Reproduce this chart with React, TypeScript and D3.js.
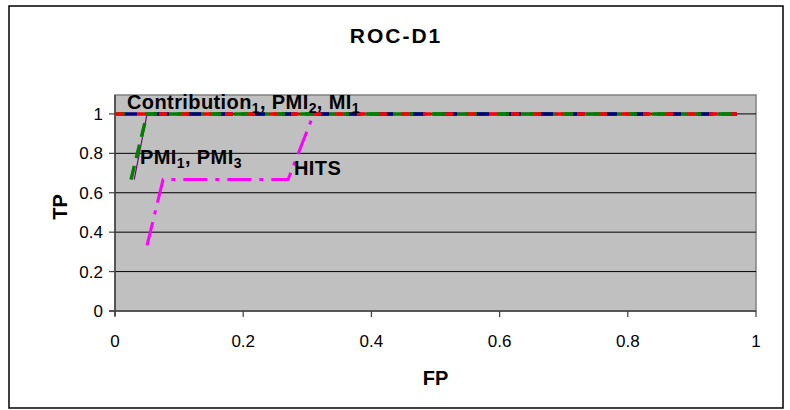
import React from "react";
import * as d3 from "d3";

// ROC curve points (FP, TP) for each method
const fpContribution = [0, 0.97];
const tpContribution = [1, 1];
const fpPMI2 = [0, 0.97];
const tpPMI2 = [1, 1];
const fpMI1 = [0, 0.97];
const tpMI1 = [1, 1];
const fpPMI1 = [0.03, 0.05, 0.97];
const tpPMI1 = [0.667, 1, 1];
const fpPMI3 = [0.025, 0.05, 0.97];
const tpPMI3 = [0.667, 1, 1];
const fpHITS = [0.05, 0.075, 0.27, 0.31, 0.97];
const tpHITS = [0.333, 0.667, 0.667, 1, 1];
const fpMaroon = [0, 0.97];
const tpMaroon = [1, 1];

const xTicks = [0, 0.2, 0.4, 0.6, 0.8, 1];
const yTicks = [0, 0.2, 0.4, 0.6, 0.8, 1];

const W = 790;
const H = 410;
const left = 115;
const right = 756;
const top = 95;
const bottom = 311;

const FONT = "Liberation Sans, Arial, sans-serif";

type Series = {
  fp: number[];
  tp: number[];
  color: string;
  width: number;
  dash?: string;
  offset?: number;
};

const series: Series[] = [
  { fp: fpMaroon, tp: tpMaroon, color: "#800000", width: 2 },
  { fp: fpPMI1, tp: tpPMI1, color: "#800080", width: 1.2 },
  { fp: fpHITS, tp: tpHITS, color: "#FF00FF", width: 3, dash: "24,8,4,8" },
  { fp: fpPMI3, tp: tpPMI3, color: "#008000", width: 3.5, dash: "14,8" },
  { fp: fpContribution, tp: tpContribution, color: "#000080", width: 3.5, dash: "15,17", offset: -7 },
  { fp: fpMI1, tp: tpMI1, color: "#008000", width: 3.5, dash: "12,20", offset: -30 },
  { fp: fpPMI2, tp: tpPMI2, color: "#FF0000", width: 3.5, dash: "8,14" },
];

export default function App() {
  const x = d3.scaleLinear().domain([0, 1]).range([left, right]);
  const y = d3.scaleLinear().domain([0, 1.096]).range([bottom, top]);
  const line = d3
    .line<[number, number]>()
    .x((d) => x(d[0]))
    .y((d) => y(d[1]));

  const sub = (t: string) => (
    <tspan fontSize={14} dy={4}>
      {t}
    </tspan>
  );
  const back = (t: string) => <tspan dy={-4}>{t}</tspan>;

  return (
    <svg
      width={W}
      height={H}
      style={{ position: "absolute", left: 0, top: 0, fontFamily: FONT }}
    >
      <rect x={0} y={0} width={W} height={H} fill="#fff" />
      <rect x={9} y={6} width={774} height={402} fill="#fff" stroke="#000" strokeWidth={1.5} />

      <text x={396} y={43} textAnchor="middle" fontSize={21} fontWeight="bold" letterSpacing={2}>
        ROC-D1
      </text>

      {/* plot area */}
      <rect x={left} y={top} width={right - left} height={bottom - top} fill="#C0C0C0" stroke="#808080" strokeWidth={1.5} />

      {/* gridlines */}
      {yTicks.slice(1).map((t) => (
        <line key={t} x1={left} x2={right} y1={y(t)} y2={y(t)} stroke="#000" strokeWidth={1} />
      ))}

      {/* axes */}
      <line x1={left} x2={left} y1={top} y2={bottom + 5} stroke="#404040" strokeWidth={1.5} />
      <line x1={left - 6} x2={right} y1={bottom} y2={bottom} stroke="#404040" strokeWidth={1.5} />
      {yTicks.map((t) => (
        <g key={t}>
          <line x1={left - 6} x2={left} y1={y(t)} y2={y(t)} stroke="#404040" strokeWidth={1.2} />
          <text x={left - 12} y={y(t) + 6} textAnchor="end" fontSize={17}>
            {String(t)}
          </text>
        </g>
      ))}
      {xTicks.map((t) => (
        <g key={t}>
          <line x1={x(t)} x2={x(t)} y1={bottom} y2={bottom + 6} stroke="#404040" strokeWidth={1.2} />
          <text x={x(t)} y={bottom + 36} textAnchor="middle" fontSize={17}>
            {String(t)}
          </text>
        </g>
      ))}

      {/* axis titles */}
      <text x={(left + right) / 2} y={385} textAnchor="middle" fontSize={20} fontWeight="bold">
        FP
      </text>
      <text
        transform={`translate(67,${(top + bottom) / 2 + 4}) rotate(-90)`}
        textAnchor="middle"
        fontSize={20}
        fontWeight="bold"
      >
        TP
      </text>

      {/* curves */}
      {series.map((s, i) => (
        <path
          key={i}
          d={line(s.fp.map((v, j) => [v, s.tp[j]] as [number, number])) || ""}
          fill="none"
          stroke={s.color}
          strokeWidth={s.width}
          strokeDasharray={s.dash}
          strokeDashoffset={s.offset}
        />
      ))}

      {/* curve labels */}
      <text x={127} y={109} fontSize={20} fontWeight="bold" letterSpacing={0.4}>
        Contribution{sub("1")}
        {back(", PMI")}
        {sub("2")}
        {back(", MI")}
        {sub("1")}
      </text>
      <text x={140} y={164} fontSize={20} fontWeight="bold" letterSpacing={0.4}>
        PMI{sub("1")}
        {back(", PMI")}
        {sub("3")}
      </text>
      <text x={294} y={175} fontSize={20} fontWeight="bold" letterSpacing={0.4}>
        HITS
      </text>
    </svg>
  );
}
